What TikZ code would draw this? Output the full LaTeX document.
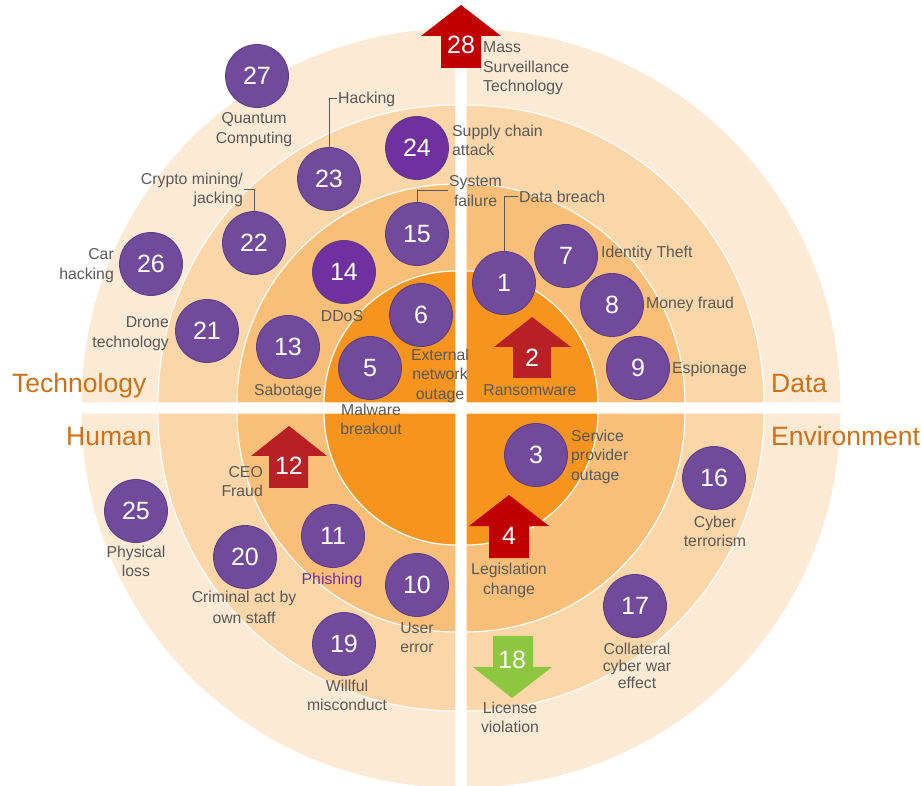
\documentclass[tikz,border=0pt]{standalone}
\usepackage{fontspec}
\setmainfont{Liberation Sans}
\definecolor{ringA}{HTML}{FDEAD5}
\definecolor{ringB}{HTML}{FBD6A8}
\definecolor{ringC}{HTML}{F9BF78}
\definecolor{ringD}{HTML}{F7941E}
\definecolor{bub}{HTML}{714A9B}
\definecolor{bubdark}{HTML}{7030A0}
\definecolor{bubline}{HTML}{5C3C85}
\definecolor{txt}{HTML}{595959}
\definecolor{cat}{HTML}{CF7016}
\definecolor{redA}{HTML}{C00000}
\definecolor{redB}{HTML}{B82025}
\definecolor{grn}{HTML}{8DC63F}
\begin{document}
\begin{tikzpicture}[x=1pt,y=1pt,
  bubble/.style={circle,fill=bub,draw=bubline,line width=0.8pt,minimum size=63pt,inner sep=0pt,text=white,font=\fontsize{25}{28}\selectfont},
  bubbleD/.style={bubble,fill=bubdark},
  lbl/.style={inner sep=1pt,text=txt,align=center,font=\fontsize{15.8}{19.5}\selectfont},
  catlbl/.style={inner sep=0pt,text=cat,font=\fontsize{26.5}{30}\selectfont},
  num/.style={inner sep=0pt,text=white,font=\fontsize{25}{28}\selectfont},
  leader/.style={draw=txt,line width=1pt},
  sector/.style={draw=white,line width=1.2pt}]
\useasboundingbox (0,0) rectangle (922,-786);
\fill[white] (0,0) rectangle (922,-786);
% quadrants
\foreach \cx/\cy/\a in {456/403/90, 466/403/0, 456/413/180, 466/413/270}{
  \foreach \r/\c in {375/ringA, 298/ringB, 219/ringC, 132/ringD}{
    \filldraw[sector,fill=\c] (\cx,-\cy) -- ++(\a:\r) arc[start angle=\a, end angle=\a+90, radius=\r] -- cycle;
  }
}
% arrows
\fill[redA] (461,-5) -- (501,-36) -- (481,-36) -- (481,-68) -- (441,-68) -- (441,-36) -- (421,-36) -- cycle;
\node[num] (n28) at (461,-45) {28};
\fill[redB] (532,-317) -- (571,-347) -- (551,-347) -- (551,-378) -- (513,-378) -- (513,-347) -- (494,-347) -- cycle;
\node[num] (n2) at (532,-358) {2};
\fill[redA] (509,-495) -- (549,-526) -- (529,-526) -- (529,-558) -- (489,-558) -- (489,-526) -- (469,-526) -- cycle;
\node[num] (n4) at (509,-536) {4};
\fill[redB] (289,-426) -- (327,-456) -- (308,-456) -- (308,-488) -- (269,-488) -- (269,-456) -- (251,-456) -- cycle;
\node[num] (n12) at (289,-466) {12};
\fill[grn] (512,-698) -- (552,-667) -- (533,-667) -- (533,-636) -- (493,-636) -- (493,-667) -- (473,-667) -- cycle;
\node[num] (n18) at (512,-660) {18};
% bubbles
\node[bubble] (n27) at (257,-76) {27};
\node[bubble] (n23) at (329,-179) {23};
\node[bubbleD] (n24) at (417,-148) {24};
\node[bubble] (n22) at (254,-243) {22};
\node[bubble] (n15) at (417,-234) {15};
\node[bubbleD] (n14) at (344,-272) {14};
\node[bubble] (n26) at (151,-264) {26};
\node[bubble] (n21) at (207,-331) {21};
\node[bubble] (n13) at (288,-347) {13};
\node[bubble] (n6) at (421,-315) {6};
\node[bubble] (n5) at (370,-368) {5};
\node[bubble] (n1) at (504,-283) {1};
\node[bubble] (n7) at (566,-256) {7};
\node[bubble] (n8) at (612,-305) {8};
\node[bubble] (n9) at (638,-368) {9};
\node[bubble] (n3) at (536,-455) {3};
\node[bubble] (n16) at (714,-478) {16};
\node[bubble] (n17) at (635,-606) {17};
\node[bubble] (n25) at (136,-511) {25};
\node[bubble] (n20) at (245,-557) {20};
\node[bubble] (n11) at (333,-536) {11};
\node[bubble] (n10) at (417,-585) {10};
\node[bubble] (n19) at (344,-644) {19};
% labels
\node[lbl] (lQuant) at (254,-129.5) {Quantum\\Computing};
\node[lbl,anchor=west] (lHack) at (337,-99) {Hacking};
\node[lbl,anchor=east,align=right] (lCrypto) at (244,-190) {Crypto mining/\\jacking};
\node[lbl,anchor=east,align=right] (lCar) at (115,-265.5) {Car\\hacking};
\node[lbl,anchor=east,align=right] (lDrone) at (170,-333.5) {Drone\\technology};
\node[lbl] (lDDoS) at (342,-316) {DDoS};
\node[lbl] (lSab) at (288,-391) {Sabotage};
\node[lbl] (lExt) at (440,-375.5) {External\\network\\outage};
\node[lbl] (lMal) at (371,-419.5) {Malware\\breakout};
\node[lbl,anchor=west] (lSys) at (448,-191) {System\\failure};
\node[lbl,anchor=west,align=left] (lSupply) at (451,-140.5) {Supply chain\\attack};
\node[lbl,anchor=west,align=left] (lMass) at (482,-68.5) {Mass\\Surveillance\\Technology};
\node[lbl,anchor=west] (lData) at (518,-197) {Data breach};
\node[lbl,anchor=west] (lId) at (600,-253) {Identity Theft};
\node[lbl,anchor=west] (lMoney) at (645,-304) {Money fraud};
\node[lbl,anchor=west] (lEsp) at (671,-369) {Espionage};
\node[lbl] (lRan) at (530,-390) {Ransomware};
\node[lbl,anchor=west,align=left] (lServ) at (570,-456.5) {Service\\provider\\outage};
\node[lbl] (lCyber) at (715,-531.5) {Cyber\\terrorism};
\node[lbl] (lLeg) at (509,-580.5) {Legislation\\change};
\node[lbl,font=\fontsize{15.8}{17}\selectfont] (lColl) at (637,-666) {Collateral\\cyber war\\effect};
\node[lbl] (lLic) at (510,-717.5) {License\\violation};
\node[lbl] (lPhys) at (136,-561.5) {Physical\\loss};
\node[lbl,anchor=east,align=right] (lCEO) at (264,-481.5) {CEO\\Fraud};
\node[lbl,font=\fontsize{15.8}{21}\selectfont] (lCrim) at (244,-607.5) {Criminal act by\\own staff};
\node[lbl,text=bubdark] (lPhish) at (332,-580) {Phishing};
\node[lbl] (lUser) at (417,-637.5) {User\\error};
\node[lbl] (lWill) at (347,-695.5) {Willful\\misconduct};
% leaders
\draw[leader] (n23.north) |- (lHack.west);
\draw[leader] (n22.north) |- (lCrypto.east);
\draw[leader] (n15.north) |- (lSys.west);
\draw[leader] (n1.north) |- (lData.west);
% categories
\node[catlbl,anchor=base west] (cTech) at (12,-393) {Technology};
\node[catlbl,anchor=base west] (cData) at (771,-393) {Data};
\node[catlbl,anchor=base west] (cHum) at (66,-446) {Human};
\node[catlbl,anchor=base west] (cEnv) at (771,-446) {Environment};
\end{tikzpicture}
\end{document}
